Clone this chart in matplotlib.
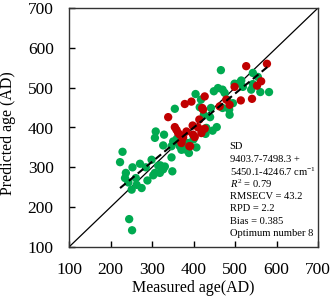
import matplotlib
matplotlib.use("Agg")
import matplotlib.pyplot as plt
import numpy as np

plt.rcParams['font.family'] = ['Liberation Serif', 'DejaVu Serif']
plt.rcParams['mathtext.fontset'] = 'custom'
plt.rcParams['mathtext.it'] = 'Liberation Serif:italic'
plt.rcParams['mathtext.rm'] = 'Liberation Serif'

green_x = [229, 223, 237, 235, 243, 253, 251, 263, 271, 275, 261, 245, 252, 289, 299, 307, 303, 309,
           307, 315, 319, 327, 327, 329, 331, 347, 349, 355, 351, 347, 367, 371, 389, 387, 407, 405,
           418, 415, 425, 431, 429, 446, 456, 442, 449, 459, 466, 470, 475, 470, 481, 487, 486, 495,
           499, 511, 519, 515, 539, 543, 555, 561, 582, 543, 440, 400, 360, 380, 285, 320]
green_y = [339, 313, 286, 273, 262, 300, 244, 256, 309, 248, 273, 170, 142, 267, 319, 286, 280, 390,
           374, 304, 286, 295, 355, 382, 302, 325, 290, 447, 365, 353, 353, 344, 336, 361, 350, 484,
           470, 451, 432, 399, 384, 392, 401, 449, 491, 499, 544, 495, 487, 449, 470, 432, 445, 461,
           510, 512, 502, 518, 495, 537, 527, 489, 489, 509, 426, 370, 372, 345, 300, 305]
red_x = [339, 355, 359, 367, 371, 371, 379, 395, 383, 399, 390, 403, 414, 419, 411, 423, 427, 421,
         427, 463, 479, 487, 499, 514, 541, 527, 553, 563, 577, 392, 363, 375, 398]
red_y = [426, 401, 394, 382, 365, 361, 459, 465, 390, 382, 353, 376, 420, 386, 400, 445, 478, 449,
         397, 453, 470, 457, 502, 468, 472, 554, 505, 516, 560, 353, 386, 375, 405]

fit_x = [223, 583]
fit_slope = 0.856
fit_intercept = 57.0

ticks = [100, 200, 300, 400, 500, 600, 700]
stats_lines = ["SD", "9403.7-7498.3 +", "5450.1-4246.7 cm$^{-1}$", "$R^2$ = 0.79",
               "RMSECV = 43.2", "RPD = 2.2", "Bias = 0.385", "Optimum number 8"]

fig = plt.figure(figsize=(3.33, 2.97), dpi=100)
ax = fig.add_axes([69/333, 1 - 247/297, (318-69)/333, (247-8)/297])

ax.plot([100, 700], [100, 700], color='black', lw=0.9, zorder=1)
ax.scatter(green_x, green_y, s=36, color='#00aa50', edgecolors='none', zorder=2)
ax.scatter(red_x, red_y, s=36, color='#c00000', edgecolors='none', zorder=3)
fx = np.array(fit_x, dtype=float)
ax.plot(fx, fit_slope * fx + fit_intercept, color='black', lw=1.5, ls=(0, (3.5, 2)), zorder=4)

ax.set_xlim(100, 700)
ax.set_ylim(100, 700)
ax.set_xticks(ticks)
ax.set_yticks(ticks)
ax.tick_params(direction='in', length=4, width=1, labelsize=12.5, top=False, right=False)
ax.tick_params(axis='y', pad=11)
ax.tick_params(axis='x', pad=11)
for s in ax.spines.values():
    s.set_linewidth(1.0)
    s.set_color('#333333')
ax.set_xlabel("Measured age(AD)", fontsize=11.5, labelpad=1)
ax.set_ylabel("Predicted age (AD)", fontsize=11.5)
ax.yaxis.label.set_va('center')
ax.yaxis.set_label_coords(-(69 - 8) / 249, 0.478)

y0 = 0.42
dy = 0.052
for i, t in enumerate(stats_lines):
    ax.text(0.645, y0 - i * dy, t, transform=ax.transAxes, fontsize=7.6, va='center', ha='left')

fig.savefig("out.png", dpi=100)
